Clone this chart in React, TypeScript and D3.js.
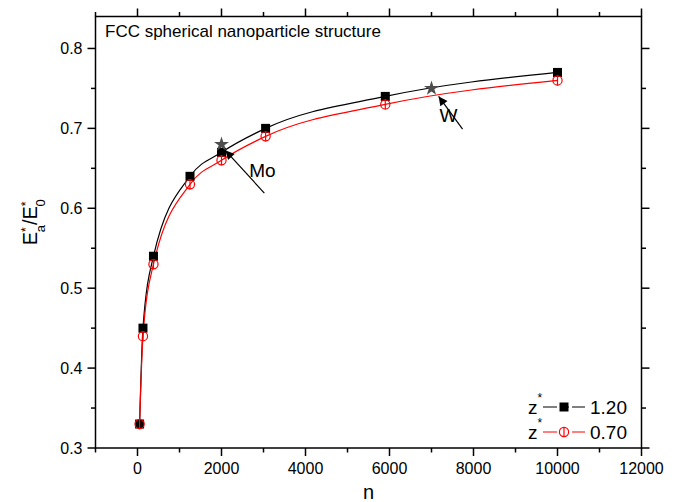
import React from "react";
import * as d3 from "d3";

const nValues = [50, 130, 380, 1250, 2000, 3050, 5900, 10000];
const seriesZ120 = [0.33, 0.45, 0.54, 0.64, 0.67, 0.7, 0.74, 0.77];
const seriesZ070 = [0.33, 0.44, 0.53, 0.63, 0.66, 0.69, 0.73, 0.76];
const starNames = ["Mo", "W"];
const starN = [2000, 7000];
const starE = [0.68, 0.75];
// arrow from (tail) to (tip), text anchor, in data units
const arrowTailN = [3020, 7740];
const arrowTailE = [0.619, 0.699];
const arrowTipN = [2090, 7170];
const arrowTipE = [0.6725, 0.74];
const labelN = [2660, 7190];
const labelE = [0.639, 0.7075];
const xMajorTicks = [0, 2000, 4000, 6000, 8000, 10000, 12000];
const xMinorTicks = [-1000, 1000, 3000, 5000, 7000, 9000, 11000];
const yMajorTicks = [0.3, 0.4, 0.5, 0.6, 0.7, 0.8];
const yMinorTicks = [0.35, 0.45, 0.55, 0.65, 0.75];
const legendLabels = ["1.20", "0.70"];

const W = 679;
const H = 502;
const L = 95.5, R = 641.5, T = 16.5, B = 448;
const FONT = "'Liberation Sans', Arial, Helvetica, sans-serif";

export default function App() {
  const x = d3.scaleLinear().domain([-1000, 12000]).range([L, R]);
  const y = d3.scaleLinear().domain([0.3, 0.84]).range([B, T]);
  const line = d3
    .line<[number, number]>()
    .x((d) => x(d[0]))
    .y((d) => y(d[1]))
    .curve(d3.curveMonotoneX);
  const blackPts = nValues.map((n, i) => [n, seriesZ120[i]] as [number, number]);
  const redPts = nValues.map((n, i) => [n, seriesZ070[i]] as [number, number]);
  const star = d3.symbol().type(d3.symbolStar).size(70)();
  const sq = 9;
  const cr = 4.6;

  const Square = ({ cx, cy }: { cx: number; cy: number }) => (
    <rect x={cx - sq / 2} y={cy - sq / 2} width={sq} height={sq} fill="#000" />
  );
  const Circ = ({ cx, cy }: { cx: number; cy: number }) => (
    <g>
      <circle cx={cx} cy={cy} r={cr} fill="none" stroke="#ff0000" strokeWidth={1.2} />
      <line x1={cx} x2={cx} y1={cy - cr - 0.5} y2={cy + cr + 0.5} stroke="#ff0000" strokeWidth={1.2} />
    </g>
  );

  const legRows = [407, 432];
  return (
    <svg
      width={W}
      height={H}
      style={{ position: "absolute", left: 0, top: 0, background: "#fff" }}
      fontFamily={FONT}
    >
      <defs>
        <marker id="ah" viewBox="0 0 10 10" refX="10" refY="5" markerWidth="11" markerHeight="9" markerUnits="userSpaceOnUse" orient="auto">
          <path d="M0,0 L10,5 L0,10 z" fill="#000" />
        </marker>
      </defs>
      {/* frame */}
      <rect x={L} y={T} width={R - L} height={B - T} fill="none" stroke="#000" strokeWidth={1.5} />
      {/* x ticks */}
      {xMajorTicks.map((t) => (
        <g key={"xM" + t}>
          <line x1={x(t)} x2={x(t)} y1={B} y2={B + 8} stroke="#000" strokeWidth={1.5} />
          <line x1={x(t)} x2={x(t)} y1={T} y2={T - 8} stroke="#000" strokeWidth={1.5} />
          <text x={x(t)} y={B + 26} textAnchor="middle" fontSize={16}>
            {t}
          </text>
        </g>
      ))}
      {xMinorTicks.map((t) => (
        <g key={"xm" + t}>
          <line x1={x(t)} x2={x(t)} y1={B} y2={B + 4.5} stroke="#000" strokeWidth={1.5} />
          <line x1={x(t)} x2={x(t)} y1={T} y2={T - 4.5} stroke="#000" strokeWidth={1.5} />
        </g>
      ))}
      {yMajorTicks.map((t) => (
        <g key={"yM" + t}>
          <line x1={L} x2={L - 8} y1={y(t)} y2={y(t)} stroke="#000" strokeWidth={1.5} />
          <line x1={R} x2={R + 8} y1={y(t)} y2={y(t)} stroke="#000" strokeWidth={1.5} />
          <text x={L - 13} y={y(t) + 6} textAnchor="end" fontSize={16}>
            {t.toFixed(1)}
          </text>
        </g>
      ))}
      {yMinorTicks.map((t) => (
        <g key={"ym" + t}>
          <line x1={L} x2={L - 4.5} y1={y(t)} y2={y(t)} stroke="#000" strokeWidth={1.5} />
          <line x1={R} x2={R + 4.5} y1={y(t)} y2={y(t)} stroke="#000" strokeWidth={1.5} />
        </g>
      ))}
      {/* axis titles */}
      <text x={(L + R) / 2} y={499} textAnchor="middle" fontSize={20}>
        n
      </text>
      <text transform={`translate(37,${(T + B) / 2 - 10}) rotate(-90)`} textAnchor="middle" fontSize={20}>
        E<tspan baselineShift="super" fontSize={12}>*</tspan>
        <tspan baselineShift="sub" fontSize={13} dx={-5}>a</tspan>
        <tspan>/E</tspan>
        <tspan baselineShift="super" fontSize={12}>*</tspan>
        <tspan baselineShift="sub" fontSize={13} dx={-5}>0</tspan>
      </text>
      {/* title */}
      <text x={105} y={37} fontSize={17}>
        FCC spherical nanoparticle structure
      </text>
      {/* curves */}
      <path d={line(blackPts) || ""} fill="none" stroke="#000" strokeWidth={1.2} />
      <path d={line(redPts) || ""} fill="none" stroke="#ff0000" strokeWidth={1.2} />
      {blackPts.map((p, i) => (
        <Square key={"s" + i} cx={x(p[0])} cy={y(p[1])} />
      ))}
      {redPts.map((p, i) => (
        <Circ key={"c" + i} cx={x(p[0])} cy={y(p[1])} />
      ))}
      {/* stars and annotations */}
      {starNames.map((name, i) => (
        <g key={name}>
          <path d={star || ""} transform={`translate(${x(starN[i])},${y(starE[i])})`} fill="#4d4d4d" />
          <line
            x1={x(arrowTailN[i])}
            y1={y(arrowTailE[i])}
            x2={x(arrowTipN[i])}
            y2={y(arrowTipE[i])}
            stroke="#000"
            strokeWidth={1.2}
            markerEnd="url(#ah)"
          />
          <text x={x(labelN[i])} y={y(labelE[i])} fontSize={19}>
            {name}
          </text>
        </g>
      ))}
      {/* legend */}
      {legendLabels.map((lab, i) => {
        const cy = legRows[i];
        const col = i === 0 ? "#000" : "#ff0000";
        return (
          <g key={lab}>
            <text x={528} y={cy + 7} fontSize={19}>
              z<tspan fontSize={12} dy={-12}>*</tspan>
            </text>
            <line x1={543} x2={585} y1={cy} y2={cy} stroke={col} strokeWidth={1.2} />
            <rect x={557} y={cy - 2} width={3} height={4} fill="#fff" />
            <rect x={569} y={cy - 2} width={3} height={4} fill="#fff" />
            {i === 0 ? (
              <rect x={564 - sq / 2} y={cy - sq / 2} width={sq} height={sq} fill="#000" />
            ) : (
              <g>
                <circle cx={564} cy={cy} r={cr} fill="#fff" stroke="#ff0000" strokeWidth={1.2} />
                <line x1={564} x2={564} y1={cy - cr - 0.5} y2={cy + cr + 0.5} stroke="#ff0000" strokeWidth={1.2} />
              </g>
            )}
            <text x={590} y={cy + 7} fontSize={19}>
              {lab}
            </text>
          </g>
        );
      })}
    </svg>
  );
}
